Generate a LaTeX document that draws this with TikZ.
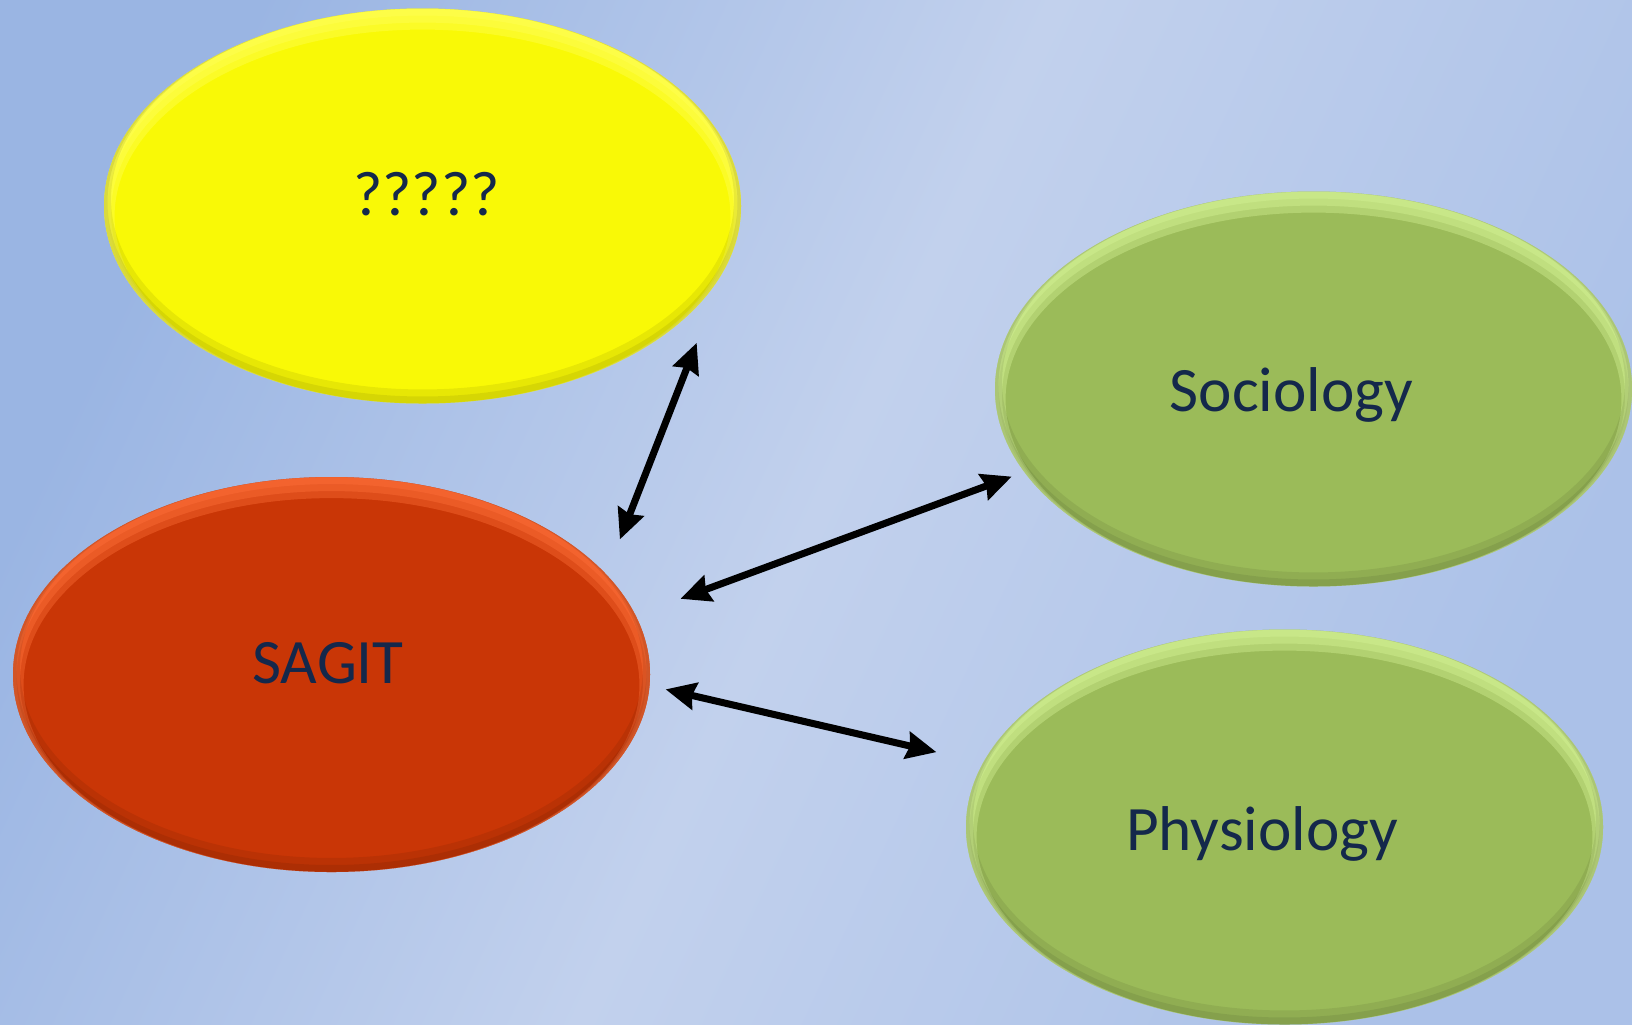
\documentclass[tikz,border=0pt]{standalone}
\usepackage{fontspec}
\setmainfont{Carlito}
\usetikzlibrary{arrows.meta,shapes.geometric}

\definecolor{bgdark}{RGB}{154,181,227}
\definecolor{bglight}{RGB}{194,209,237}
\definecolor{bgmid}{RGB}{171,193,232}
\definecolor{txtblue}{RGB}{20,40,75}
\definecolor{qyellow}{RGB}{249,249,6}
\definecolor{qyellowrim}{RGB}{255,255,90}
\definecolor{sagitred}{RGB}{201,54,6}
\definecolor{sagitredrim}{RGB}{255,112,58}
\definecolor{fieldgreen}{RGB}{155,187,89}
\definecolor{fieldgreenrim}{RGB}{214,244,150}

\begin{document}
\begin{tikzpicture}[
    bubble/.style={ellipse, minimum width=6.37cm, minimum height=3.95cm, inner sep=0pt, outer sep=0pt},
    bevel/.style={path picture={
        \foreach \w in {1,2,3}
            \draw [#1, opacity=0.4, line width=2*\w pt] ([yshift=-\w pt]path picture bounding box.center) ellipse [x radius=3.185cm, y radius=1.975cm];
        \foreach \w in {1,2}
            \draw [black, opacity=0.07, line width=2*\w pt] ([yshift=\w pt]path picture bounding box.center) ellipse [x radius=3.185cm, y radius=1.975cm];
    }},
    word/.style={anchor=base, text=txtblue, font=\fontsize{18}{22}\selectfont},
    link/.style={{Stealth[length=3mm,width=2.7mm,inset=0.3mm]}-{Stealth[length=3mm,width=2.7mm,inset=0.3mm]}, line width=2pt}
]
    \useasboundingbox (0,0) rectangle (16.32,-10.24);
    \shade [top color=bgdark, bottom color=bgmid, middle color=bglight, shading angle=65] (0,0) rectangle (16.32,-10.24);

    \node [bubble, fill=qyellow, bevel=qyellowrim] (unknown) at (4.225,-2.06) {};
    \node [bubble, fill=sagitred, bevel=sagitredrim] (sagit) at (3.315,-6.745) {};
    \node [bubble, fill=fieldgreen, bevel=fieldgreenrim] (sociology) at (13.135,-3.89) {};
    \node [bubble, fill=fieldgreen, bevel=fieldgreenrim] (physiology) at (12.845,-8.27) {};

    \node [word] (unknown-txt) at (4.265,-2.15) {?????};
    \node [word] (sagit-txt) at (3.28,-6.83) {SAGIT};
    \node [word] (sociology-txt) at (12.915,-4.117) {Sociology};
    \node [word] (physiology-txt) at (12.62,-8.50) {Physiology};

    \draw [link, shorten <=0.377cm, shorten >=1.0cm] (sagit.20) -- (unknown.-8);
    \draw [link, shorten <=0.48cm, shorten >=0.135cm] (sagit.11) -- (sociology.196);
    \draw [link, shorten <=0.165cm, shorten >=0.48cm] (sagit.-2) -- (physiology.168);
\end{tikzpicture}
\end{document}
